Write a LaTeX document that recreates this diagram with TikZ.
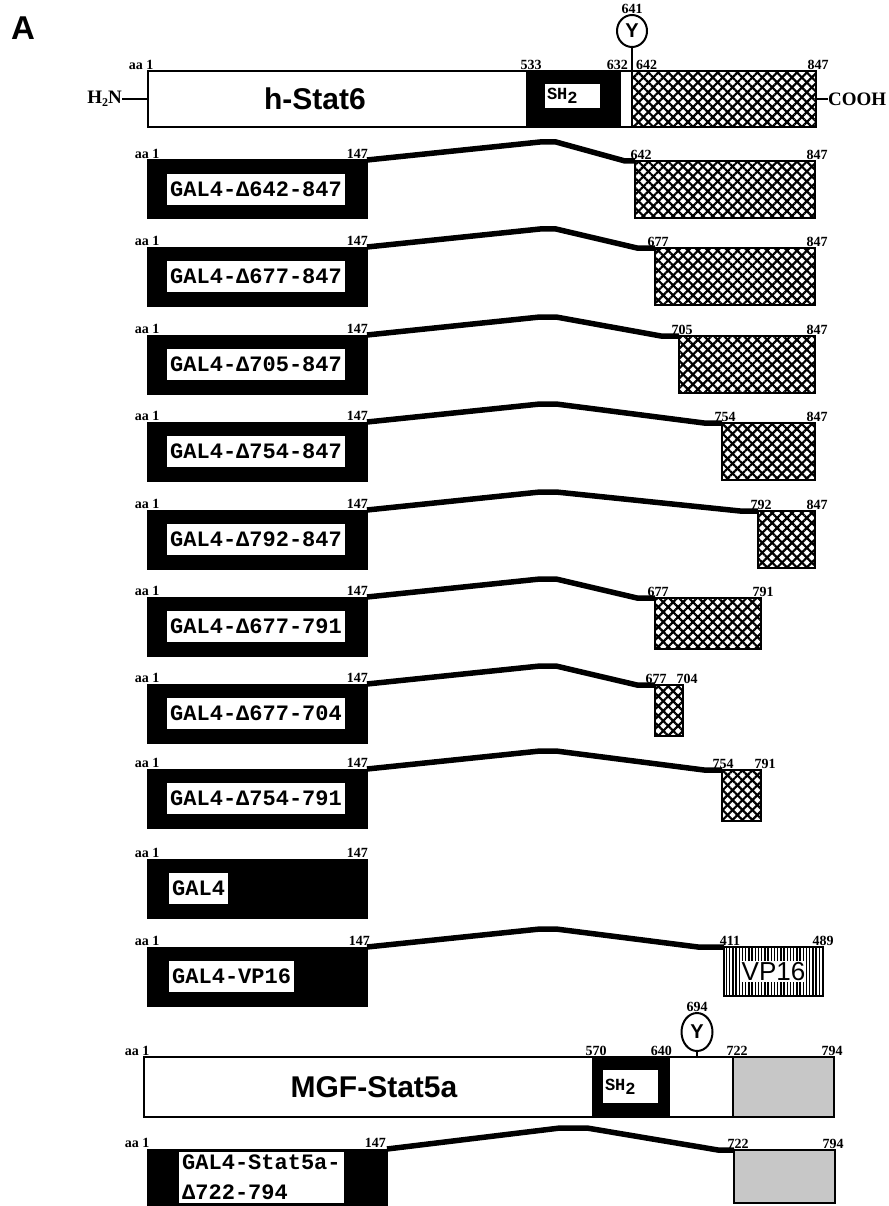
\documentclass[tikz,border=0pt]{standalone}
\usepackage{fontspec}
\setmainfont{Liberation Serif}
\setsansfont{Liberation Sans}
\setmonofont{Liberation Mono}
\usetikzlibrary{positioning,patterns.meta,shapes.geometric}

\newcommand{\figfs}[1]{\fontsize{#1}{#1}\selectfont}

\begin{document}
\begin{tikzpicture}[x=1pt, y=-1pt,
    seg/.style={rectangle, draw, line width=2.5pt, minimum height=56pt, inner sep=0pt, outer sep=0pt, anchor=north west},
    galbox/.style={rectangle, draw, fill=black, line width=1pt, minimum width=220pt, minimum height=59pt, inner sep=0pt, outer sep=0pt, anchor=north west},
    gallabel/.style={rectangle, fill=white, inner sep=3pt, minimum height=31pt, font=\ttfamily\bfseries\figfs{22}},
    tadbox/.style={rectangle, draw, line width=2.5pt, inner sep=0pt, outer sep=0pt, anchor=north west,
        pattern={Lines[angle=45, distance=7pt, line width=2.2pt]},
        postaction={pattern={Lines[angle=-45, distance=7pt, line width=2.2pt]}}},
    vpbox/.style={rectangle, draw, line width=2.5pt, inner sep=0pt, outer sep=0pt, anchor=north west,
        pattern={Lines[angle=90, distance=3.2pt, line width=1.4pt]}},
    dotbox/.style={rectangle, draw, line width=2.5pt, fill=black!22, inner sep=0pt, outer sep=0pt, anchor=north west},
    num/.style={font=\bfseries\figfs{14}, inner sep=1pt},
    link/.style={line width=5.5pt},
    ptyr/.style={ellipse, draw, line width=2pt, inner sep=0pt, outer sep=0pt, font=\sffamily\bfseries\figfs{20}},
    title/.style={font=\sffamily\bfseries\figfs{30}},
    shlabel/.style={rectangle, fill=white, inner sep=2pt, text width=51pt, align=left, font=\ttfamily\bfseries\figfs{17}},
    term/.style={font=\bfseries\figfs{19}, inner sep=0pt}
]
    \useasboundingbox (0,0) rectangle (888,1206);

    \node[font=\sffamily\bfseries\figfs{33}] (panel) at (23,28) {A};

    \node[seg, minimum width=379pt] (nterm6) at (148,71) {};
    \node[seg, fill=black, minimum width=93pt, right=0pt of nterm6] (sh6) {};
    \node[seg, minimum width=12pt, right=0pt of sh6] (link6) {};
    \node[tadbox, minimum width=184pt, minimum height=56pt, right=0pt of link6] (tad6) {};
    \node[title] (stat6) at (315,99) {h-Stat6};
    \node[shlabel, minimum height=24pt] (shl6) at (572.5,96) {SH\raisebox{-4pt}{2}};
    \node[ptyr, minimum width=30pt, minimum height=32pt] (y641) at (632,31) {Y};
    \node[num, above=0pt of y641] (n641) {641};
    \node[term, left=26pt of nterm6.west] (h2n) {H\raisebox{-3.5pt}{\figfs{12}2}N};
    \node[term, right=12pt of tad6.east] (cooh) {COOH};
    \draw[line width=2.5pt] (h2n) -- (nterm6.west);
    \draw[line width=2.5pt] (tad6.east) -- (cooh);
    \draw[line width=2pt] (y641.south) -- (tad6.north west);
    \node[num, above=0pt of nterm6.north west, xshift=-7pt] {aa 1};
    \node[num, above=0pt of sh6.north west, xshift=4pt] {533};
    \node[num, above left=0pt and 3pt of tad6.north west] {632};
    \node[num, above right=0pt and 3pt of tad6.north west] {642};
    \node[num, above=0pt of tad6.north east, xshift=2pt] {847};

    \node[galbox] (g1) at (147,160) {};
    \node[gallabel, right=20pt of g1.west] (l1) {GAL4-Δ642-847};
    \node[tadbox, minimum width=180pt, minimum height=57pt] (t1) at (635,161) {};
    \draw[link] (g1.north east) -- ++(173,-18) -- ++(16,0) -- ([xshift=-10pt]t1.north west) -- (t1.north west);
    \node[num, above=0pt of g1.north west] {aa 1};
    \node[num, above left=0pt and -2pt of g1.north east] {147};
    \node[num, above=0pt of t1.north west, xshift=6pt] {642};
    \node[num, above=0pt of t1.north east, xshift=2pt] {847};

    \node[galbox] (g2) at (147,247) {};
    \node[gallabel, right=20pt of g2.west] (l2) {GAL4-Δ677-847};
    \node[tadbox, minimum width=160pt, minimum height=57pt] (t2) at (655,248) {};
    \draw[link] (g2.north east) -- ++(173,-18) -- ++(16,0) -- ([xshift=-18pt]t2.north west) -- (t2.north west);
    \node[num, above=0pt of g2.north west] {aa 1};
    \node[num, above left=0pt and -2pt of g2.north east] {147};
    \node[num, above=0pt of t2.north west, xshift=3pt] {677};
    \node[num, above=0pt of t2.north east, xshift=2pt] {847};

    \node[galbox] (g3) at (147,335) {};
    \node[gallabel, right=20pt of g3.west] (l3) {GAL4-Δ705-847};
    \node[tadbox, minimum width=136pt, minimum height=57pt] (t3) at (679,336) {};
    \draw[link] (g3.north east) -- ++(173,-18) -- ++(16,0) -- ([xshift=-18pt]t3.north west) -- (t3.north west);
    \node[num, above=0pt of g3.north west] {aa 1};
    \node[num, above left=0pt and -2pt of g3.north east] {147};
    \node[num, above=0pt of t3.north west, xshift=3pt] {705};
    \node[num, above=0pt of t3.north east, xshift=2pt] {847};

    \node[galbox] (g4) at (147,422) {};
    \node[gallabel, right=20pt of g4.west] (l4) {GAL4-Δ754-847};
    \node[tadbox, minimum width=93pt, minimum height=57pt] (t4) at (722,423) {};
    \draw[link] (g4.north east) -- ++(173,-18) -- ++(16,0) -- ([xshift=-18pt]t4.north west) -- (t4.north west);
    \node[num, above=0pt of g4.north west] {aa 1};
    \node[num, above left=0pt and -2pt of g4.north east] {147};
    \node[num, above=0pt of t4.north west, xshift=3pt] {754};
    \node[num, above=0pt of t4.north east, xshift=2pt] {847};

    \node[galbox] (g5) at (147,510) {};
    \node[gallabel, right=20pt of g5.west] (l5) {GAL4-Δ792-847};
    \node[tadbox, minimum width=57pt, minimum height=57pt] (t5) at (758,511) {};
    \draw[link] (g5.north east) -- ++(173,-18) -- ++(16,0) -- ([xshift=-18pt]t5.north west) -- (t5.north west);
    \node[num, above=0pt of g5.north west] {aa 1};
    \node[num, above left=0pt and -2pt of g5.north east] {147};
    \node[num, above=0pt of t5.north west, xshift=3pt] {792};
    \node[num, above=0pt of t5.north east, xshift=2pt] {847};

    \node[galbox] (g6) at (147,597) {};
    \node[gallabel, right=20pt of g6.west] (l6) {GAL4-Δ677-791};
    \node[tadbox, minimum width=106pt, minimum height=51pt] (t6) at (655,598) {};
    \draw[link] (g6.north east) -- ++(173,-18) -- ++(16,0) -- ([xshift=-18pt]t6.north west) -- (t6.north west);
    \node[num, above=0pt of g6.north west] {aa 1};
    \node[num, above left=0pt and -2pt of g6.north east] {147};
    \node[num, above=0pt of t6.north west, xshift=3pt] {677};
    \node[num, above=0pt of t6.north east, xshift=2pt] {791};

    \node[galbox] (g7) at (147,684) {};
    \node[gallabel, right=20pt of g7.west] (l7) {GAL4-Δ677-704};
    \node[tadbox, minimum width=28pt, minimum height=51pt] (t7) at (655,685) {};
    \draw[link] (g7.north east) -- ++(173,-18) -- ++(16,0) -- ([xshift=-18pt]t7.north west) -- (t7.north west);
    \node[num, above=0pt of g7.north west] {aa 1};
    \node[num, above left=0pt and -2pt of g7.north east] {147};
    \node[num, above=0pt of t7.north west, xshift=1pt] {677};
    \node[num, above=0pt of t7.north east, xshift=4pt] {704};

    \node[galbox] (g8) at (147,769) {};
    \node[gallabel, right=20pt of g8.west] (l8) {GAL4-Δ754-791};
    \node[tadbox, minimum width=39pt, minimum height=51pt] (t8) at (722,770) {};
    \draw[link] (g8.north east) -- ++(173,-18) -- ++(16,0) -- ([xshift=-18pt]t8.north west) -- (t8.north west);
    \node[num, above=0pt of g8.north west] {aa 1};
    \node[num, above left=0pt and -2pt of g8.north east] {147};
    \node[num, above=0pt of t8.north west, xshift=1pt] {754};
    \node[num, above=0pt of t8.north east, xshift=4pt] {791};

    \node[galbox] (g9) at (147,859) {};
    \node[gallabel, right=22pt of g9.west] (l9) {GAL4};
    \node[num, above=0pt of g9.north west] {aa 1};
    \node[num, above left=0pt and -2pt of g9.north east] {147};

    \node[galbox] (g10) at (147,947) {};
    \node[gallabel, right=22pt of g10.west] (l10) {GAL4-VP16};
    \node[vpbox, minimum width=99pt, minimum height=49pt] (t10) at (724,947) {};
    \node[fill=white, inner sep=1pt, font=\sffamily\figfs{26}] (vp) at (t10.center) {VP16};
    \draw[link] (g10.north east) -- ++(173,-18) -- ++(16,0) -- ([xshift=-26pt]t10.north west) -- (t10.north west);
    \node[num, above=0pt of g10.north west] {aa 1};
    \node[num, above left=0pt and -4pt of g10.north east] {147};
    \node[num, above=0pt of t10.north west, xshift=6pt] {411};
    \node[num, above=0pt of t10.north east] {489};

    \node[seg, minimum width=449pt, minimum height=60pt] (nterm5) at (144,1057) {};
    \node[seg, fill=black, minimum width=76pt, minimum height=60pt, right=0pt of nterm5] (sh5) {};
    \node[seg, minimum width=64pt, minimum height=60pt, right=0pt of sh5] (link5) {};
    \node[dotbox, minimum width=101pt, minimum height=60pt, right=0pt of link5] (tad5) {};
    \node[title] (stat5) at (374,1087) {MGF-Stat5a};
    \node[shlabel, minimum height=33pt] (shl5) at (630.5,1086.5) {SH\raisebox{-4pt}{2}};
    \node[ptyr, minimum width=31pt, minimum height=38pt] (y694) at (697,1032) {Y};
    \node[num, above=0pt of y694] (n694) {694};
    \draw[line width=2pt] (y694.south) -- (y694.south |- link5.north);
    \node[num, above=0pt of nterm5.north west, xshift=-7pt] {aa 1};
    \node[num, above=0pt of sh5.north west, xshift=3pt] {570};
    \node[num, above left=0pt and -4pt of sh5.north east] {640};
    \node[num, above=0pt of tad5.north west, xshift=4pt] {722};
    \node[num, above=0pt of tad5.north east, xshift=-2pt] {794};

    \node[galbox, minimum width=240pt, minimum height=62pt] (g11) at (147,1149) {};
    \node[gallabel, anchor=north west, align=left, font=\ttfamily\bfseries\fontsize{22}{30}\selectfont] (l11) at (179,1152) {GAL4-Stat5a-\\Δ722-794};
    \node[dotbox, minimum width=101pt, minimum height=53pt] (t11) at (734,1150) {};
    \draw[link] (g11.north east) -- ++(173,-21) -- ++(27,0) -- ([xshift=-16pt]t11.north west) -- (t11.north west);
    \node[num, above=0pt of g11.north west, xshift=-10pt] {aa 1};
    \node[num, above left=0pt and 0pt of g11.north east] {147};
    \node[num, above=0pt of t11.north west, xshift=4pt] {722};
    \node[num, above=0pt of t11.north east, xshift=-2pt] {794};
\end{tikzpicture}
\end{document}
